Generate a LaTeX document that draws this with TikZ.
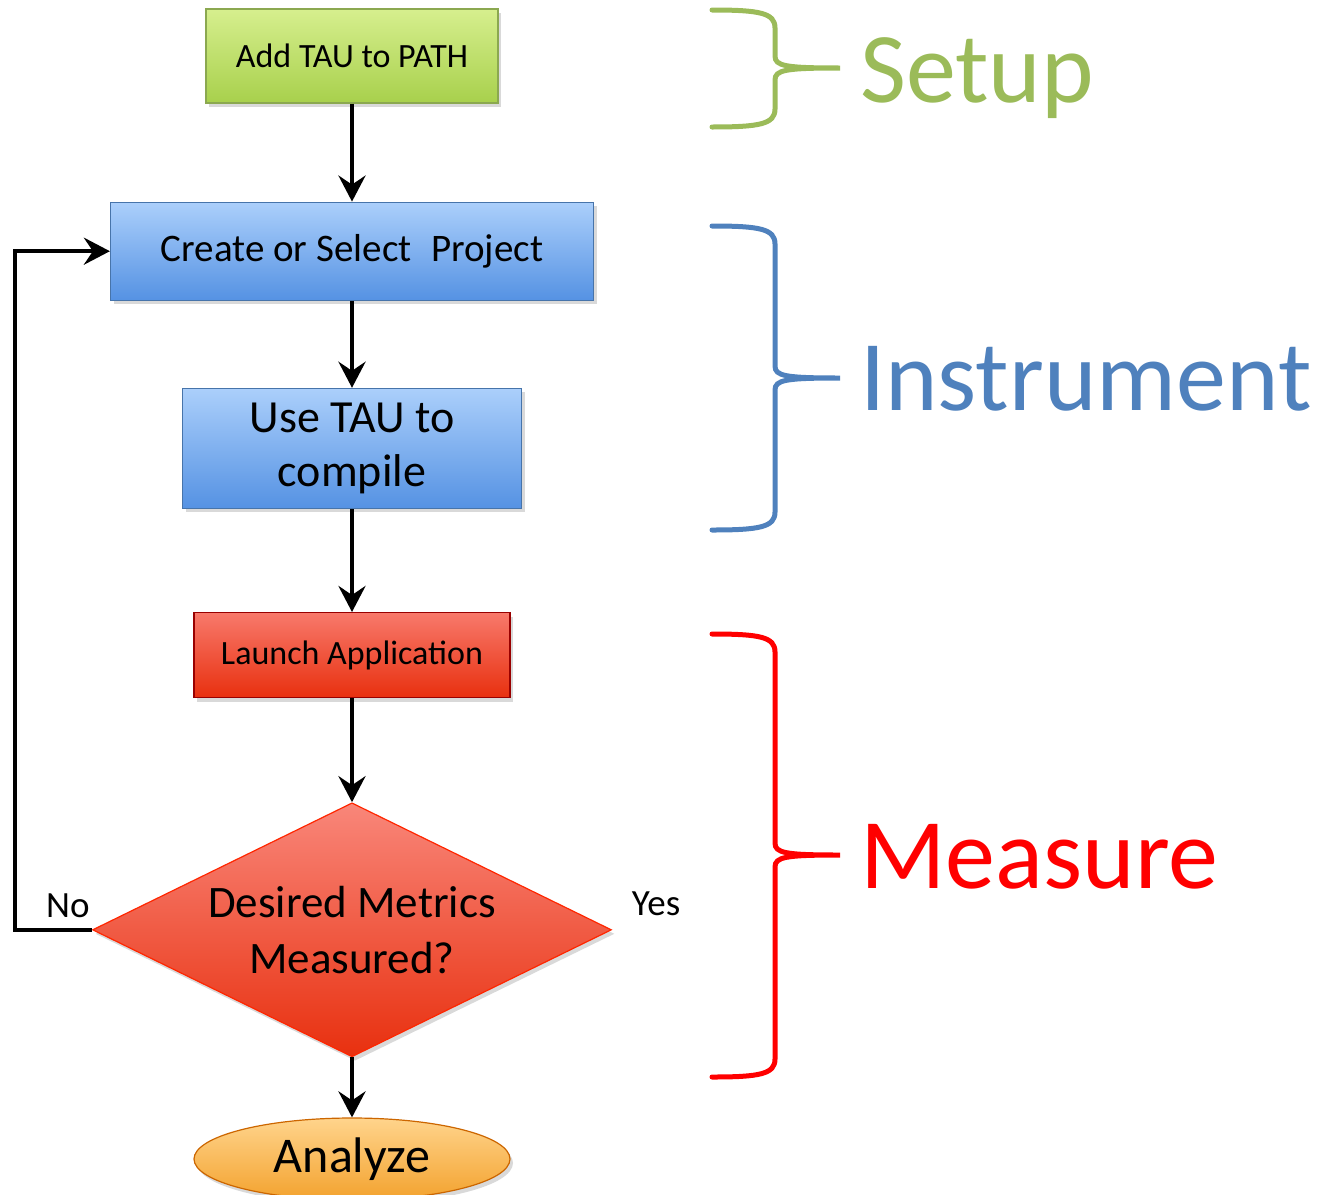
\documentclass[tikz,border=0pt]{standalone}
\usepackage{fontspec}
\setmainfont{Carlito}
\usepackage{xcolor}
\usepackage{tikz}
\usetikzlibrary{positioning,arrows.meta,shapes.geometric,shadows}
\definecolor{gsetup}{HTML}{9BBB59}
\definecolor{binstr}{HTML}{4F81BD}
\definecolor{rmeas}{HTML}{FF0000}
\definecolor{gtop}{HTML}{D6EF8E}
\definecolor{gbot}{HTML}{A8D04C}
\definecolor{btop}{HTML}{ABCFFB}
\definecolor{bbot}{HTML}{5592E3}
\definecolor{rtop}{HTML}{F8796B}
\definecolor{rbot}{HTML}{E8300F}
\definecolor{otop}{HTML}{FFD48C}
\definecolor{obot}{HTML}{F3A22E}
\newcommand{\fsz}[2]{\fontsize{#1pt}{#2pt}\selectfont}

\begin{document}
\begin{tikzpicture}[x=1pt,y=-1pt,
  box/.style={draw,line width=1.2pt,inner sep=0pt,align=center,
    drop shadow={opacity=0.3,shadow xshift=3pt,shadow yshift=-4pt}},
  grnbox/.style={box,draw=gsetup!90!black,top color=gtop,bottom color=gbot},
  bluebox/.style={box,draw=binstr!90!black,top color=btop,bottom color=bbot},
  redbox/.style={box,draw=red!60!black,top color=rtop,bottom color=rbot},
  decide/.style={box,diamond,aspect=2.04,draw=red!70!orange,top color=rtop!90!white,bottom color=rbot},
  ana/.style={box,ellipse,draw=orange!80!black,top color=otop,bottom color=obot},
  arr/.style={-{Stealth[length=26pt,width=27pt,inset=9pt]},line width=4.5pt},
  brc/.style={line width=5pt,line cap=round},
  grp/.style={anchor=base west,inner sep=0pt,font=\fsz{100}{120}}
]
\useasboundingbox (0,0) rectangle (1340,1194);
% flow chart
\node[grnbox,minimum width=292pt,minimum height=94pt,font=\fsz{34}{41}] (path) at (352,56) {Add TAU to PATH};
\node[bluebox,below=98pt of path,minimum width=483pt,minimum height=98pt,font=\fsz{39}{47}] (proj) {Create or Select\enspace Project};
\node[bluebox,below=87pt of proj,minimum width=339pt,minimum height=120pt,font=\fsz{46}{54}] (comp) {Use TAU to\\compile};
\node[redbox,below=103pt of comp,minimum width=316pt,minimum height=85pt,font=\fsz{34}{41}] (run) {Launch Application};
\node[decide,below=104pt of run,minimum width=519pt,minimum height=254pt,font=\fsz{45}{56}] (done) {Desired Metrics\\Measured?};
\node[ana,below=60pt of done,minimum width=316pt,minimum height=82pt,font=\fsz{50}{60}] (ana) {Analyze};
\node[font=\fsz{37}{44}] (no) at ([xshift=-24pt,yshift=24pt]done.west) {No};
\node[font=\fsz{37}{44}] (yes) at ([xshift=44pt,yshift=26pt]done.east) {Yes};
\draw[arr] (path) -- (proj);
\draw[arr] (proj) -- (comp);
\draw[arr] (comp) -- (run);
\draw[arr] (run) -- (done);
\draw[arr] (done) -- (ana);
\draw[arr] (done.west) -- ++(-77pt,0) |- (proj.west);
% braces
\foreach \yt/\yb/\ym/\col/\nm in {10/127/68/gsetup/tS,226/530/378/binstr/tI,634/1077/855/rmeas/tM}{
  \draw[brc,draw=\col] (712,\yt) .. controls (760,\yt) and (775,\yt+3) .. (775,\yt+18)
    -- (775,\ym-12) .. controls (775,\ym-2) and (785,\ym) .. (840,\ym)
    .. controls (785,\ym) and (775,\ym+2) .. (775,\ym+12)
    -- (775,\yb-18) .. controls (775,\yb-3) and (760,\yb) .. (712,\yb);
  \coordinate (\nm) at (840,\ym);
}
\node[grp,text=gsetup] (setup) at ([xshift=20pt,yshift=-34pt]tS) {Setup};
\node[grp,text=binstr] (instr) at ([xshift=20pt,yshift=-32pt]tI) {Instrument};
\node[grp,text=rmeas] (meas) at ([xshift=20pt,yshift=-33pt]tM) {Measure};
\end{tikzpicture}
\end{document}
